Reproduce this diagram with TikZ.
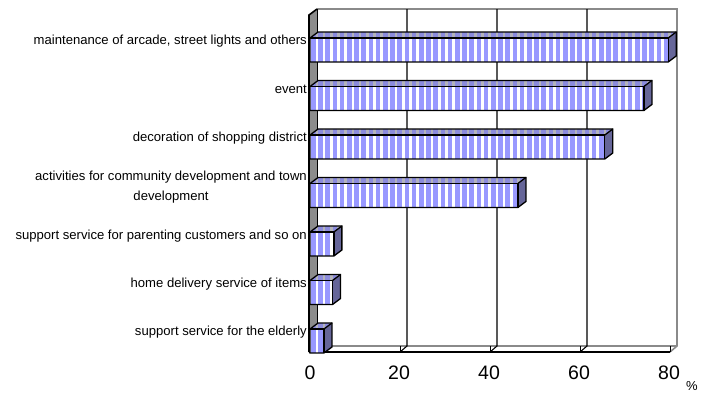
\documentclass[tikz,border=0pt]{standalone}
\usepackage{fontspec}
\setmainfont{Liberation Sans}
\definecolor{barblue}{HTML}{9999FF}
\definecolor{topblue}{HTML}{8C8CDC}
\definecolor{topgrey}{HTML}{B4B4BC}
\definecolor{sideblue}{HTML}{666699}
\definecolor{wallgrey}{HTML}{8C8C8C}
\definecolor{edgegrey}{HTML}{8A8A8A}
\tikzset{
  lbl/.style={font=\fontsize{13.1}{20}\selectfont, inner sep=0pt, anchor=east},
  num/.style={font=\fontsize{19.5}{22}\selectfont, inner sep=0pt},
  barline/.style={draw=black, line width=1.3pt, line join=miter},
  grid/.style={draw=black, line width=1.1pt},
  backedge/.style={draw=edgegrey, line width=1.6pt},
}
\newcommand\hbarthreed[2]{%
  \pgfmathsetmacro\xe{310+4.5*#2}%
  \def\yt{#1}%
  % front face
  \begin{scope}
    \clip (310,\yt) rectangle (\xe,\yt+24);
    \fill[white] (310,\yt) rectangle (\xe,\yt+24);
    \foreach \s in {0,...,50} {\fill[barblue] ({311+7.2*\s},\yt) rectangle ++(4.5,24);}
  \end{scope}
  % top face
  \begin{scope}
    \clip (310,\yt) -- (318,\yt-6) -- (\xe+8,\yt-6) -- (\xe,\yt) -- cycle;
    \fill[topgrey] (308,\yt-7) rectangle (\xe+10,\yt+1);
    \foreach \s in {0,...,50} {\fill[topblue] ({311+7.2*\s},\yt-7) rectangle ++(4.5,8);}
  \end{scope}
  % side face
  \fill[sideblue] (\xe,\yt) -- (\xe+8,\yt-6) -- (\xe+8,\yt+18) -- (\xe,\yt+24) -- cycle;
  \draw[barline] (310,\yt) -- (318,\yt-6) -- (\xe+8,\yt-6) -- (\xe+8,\yt+18) -- (\xe,\yt+24) -- (310,\yt+24) -- cycle;
  \draw[barline] (310,\yt) -- (\xe,\yt) -- (\xe,\yt+24);
  \draw[barline] (\xe,\yt) -- (\xe+8,\yt-6);
}
\begin{document}
\begin{tikzpicture}[x=1pt,y=-1pt]
\useasboundingbox (0,0) rectangle (704,394);
% back wall edges
\draw[backedge] (317,9) -- (677,9) -- (677,346) -- (670,352);
\draw[backedge] (317,346) -- (677,346);
% gridlines
\foreach \k in {1,2,3} {
  \draw[grid] (317+90*\k,9) -- (317+90*\k,346) -- (310+90*\k,352);
}
% left wall
\fill[wallgrey] (309,15) -- (317,9) -- (317,346) -- (309,352) -- cycle;
\draw[black, line width=0.8pt] (317,9) -- (317,346);
\draw[black, line width=1.6pt] (309,352) -- (309,15) -- (317,9);
% front floor edge and ticks
\draw[black, line width=1.6pt] (309,352) -- (670,352);
\foreach \k in {1,2,3,4} {
  \draw[black, line width=0.9pt] (310+90*\k,352) -- (310+90*\k,346);
}
% bars
\hbarthreed{38}{79.6}
\hbarthreed{86.5}{74.2}
\hbarthreed{135}{65.5}
\hbarthreed{183.5}{46.2}
\hbarthreed{232}{5.3}
\hbarthreed{280.5}{5.0}
\hbarthreed{329}{3.1}
% category labels
\node[lbl] (c1) at (307,41) {maintenance of arcade, street lights and others};
\node[lbl] (c2) at (307,89.5) {event};
\node[lbl] (c3) at (307,138) {decoration of shopping district};
\node[lbl, align=center] (c4) at (307,187) {activities for community development and town\\development};
\node[lbl] (c5) at (307,236) {support service for parenting customers and so on};
\node[lbl] (c6) at (307,284) {home delivery service of items};
\node[lbl] (c7) at (307,332.5) {support service for the elderly};
% axis numbers
\node[num] (n0) at (310,372.5) {0};
\node[num] (n20) at (399,372.5) {20};
\node[num] (n40) at (489,372.5) {40};
\node[num] (n60) at (579,372.5) {60};
\node[num] (n80) at (669,372.5) {80};
\node[font=\fontsize{13}{14}\selectfont, inner sep=0pt] (pct) at (692,386) {\%};
\end{tikzpicture}
\end{document}
